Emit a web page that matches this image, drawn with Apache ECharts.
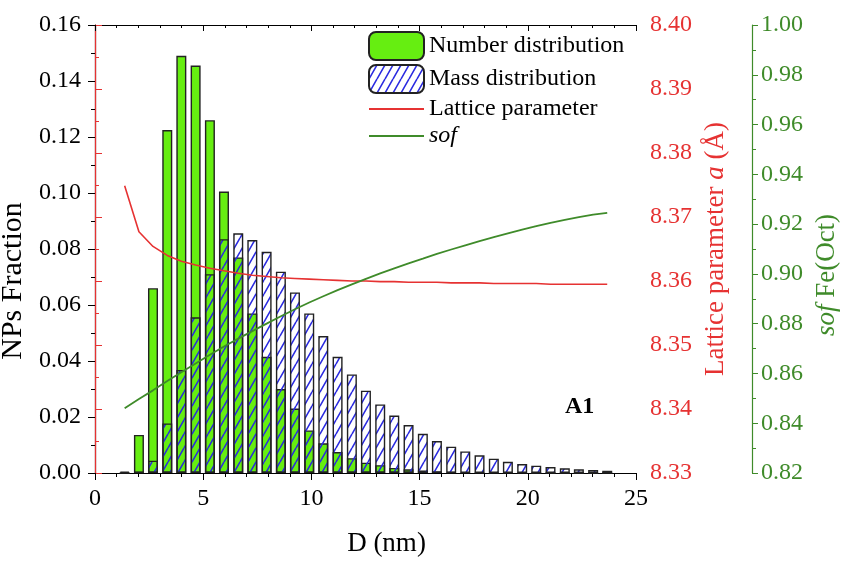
<!DOCTYPE html>
<html><head><meta charset="utf-8">
<script src="https://cdn.jsdelivr.net/npm/echarts@6/dist/echarts.min.js"></script>
<style>html,body{margin:0;padding:0;background:#fff}#c{width:842px;height:562px}</style>
</head><body><div id="c"></div>
<script>
// Bin centres D (nm)
const diameters = [1.37, 2.03, 2.68, 3.34, 3.99, 4.65, 5.31, 5.96, 6.62, 7.27,
  7.93, 8.59, 9.24, 9.90, 10.55, 11.21, 11.87, 12.52, 13.18, 13.83,
  14.49, 15.15, 15.80, 16.46, 17.11, 17.77, 18.43, 19.08, 19.74, 20.39,
  21.05, 21.71, 22.36, 23.02, 23.67];
// NPs fraction – number distribution
const numberDist = [0.0005, 0.0136, 0.0660, 0.1225, 0.1490, 0.1455, 0.1260, 0.1005, 0.0770, 0.0570,
  0.0415, 0.0300, 0.0230, 0.0152, 0.0106, 0.0075, 0.0053, 0.0037, 0.0028, 0.0018,
  0.0013, 0.0009, 0.0006, 0.0004, 0.0003, 0.0002, 0.0001, 0.0001, 0.0001, 0,
  0, 0, 0, 0, 0];
// NPs fraction – mass distribution
const massDist = [0, 0.0004, 0.0044, 0.0177, 0.0368, 0.0556, 0.0710, 0.0835, 0.0856, 0.0832,
  0.0790, 0.0719, 0.0645, 0.0570, 0.0489, 0.0415, 0.0352, 0.0294, 0.0245, 0.0205,
  0.0171, 0.0140, 0.0114, 0.0094, 0.0077, 0.0063, 0.0051, 0.0040, 0.0032, 0.0026,
  0.0021, 0.0017, 0.0013, 0.0011, 0.0008];
// Lattice parameter a (Å)
const latticeParam = [8.3749, 8.3677, 8.3654, 8.3640, 8.3631, 8.3625, 8.3620, 8.3616, 8.3612, 8.3609,
  8.3607, 8.3605, 8.3604, 8.3603, 8.3602, 8.3601, 8.3600, 8.3600, 8.3599, 8.3599,
  8.3598, 8.3598, 8.3598, 8.3597, 8.3597, 8.3597, 8.3596, 8.3596, 8.3596, 8.3596,
  8.3595, 8.3595, 8.3595, 8.3595, 8.3595];
// sof Fe(Oct)
const sofFeOct = [0.8460, 0.8497, 0.8532, 0.8570, 0.8605, 0.8640, 0.8675, 0.8708, 0.8740, 0.8770,
  0.8800, 0.8830, 0.8858, 0.8885, 0.8910, 0.8935, 0.8958, 0.8980, 0.9002, 0.9022,
  0.9042, 0.9061, 0.9080, 0.9098, 0.9115, 0.9132, 0.9148, 0.9163, 0.9178, 0.9192,
  0.9205, 0.9217, 0.9228, 0.9238, 0.9245];
const seriesNames = ['Number distribution', 'Mass distribution', 'Lattice parameter', 'sof'];

const serif = 'Liberation Serif';
const RED = '#e63232', GRN = '#3f8b2a', LIME = '#66ee11', BLK = '#000';

// hatch tile
const hatch = document.createElement('canvas');
hatch.width = 8; hatch.height = 14;
(function(){
  const c = hatch.getContext('2d');
  c.strokeStyle = '#2a2ae0'; c.lineWidth = 1.6;
  c.beginPath();
  for (const dx of [-8, 0, 8]) { c.moveTo(dx, 14); c.lineTo(dx + 8, 0); }
  c.stroke();
})();

const chart = echarts.init(document.getElementById('c'), null, {renderer: 'canvas'});
const pair = arr => diameters.map((d, i) => [d, arr[i]]);
const flatIcon = 'path://M0,0H55V2H0Z';

chart.setOption({
  animation: false,
  textStyle: {fontFamily: serif},
  grid: {left: 95, right: 206, top: 25, bottom: 89, outerBoundsMode: 'none'},
  legend: {
    orient: 'vertical', left: 363, top: 26, itemWidth: 55, itemHeight: 28, itemGap: 3,
    data: [
      {name: seriesNames[0]},
      {name: seriesNames[1]},
      {name: seriesNames[2], icon: flatIcon},
      {name: seriesNames[3], icon: flatIcon}
    ],
    formatter: n => n === 'sof' ? '{i|sof}' : n,
    textStyle: {fontSize: 24, color: BLK, fontFamily: serif,
      rich: {i: {fontStyle: 'italic', fontSize: 24, color: BLK, fontFamily: serif}}}
  },
  xAxis: [{
    type: 'value', min: 0, max: 25, interval: 5, position: 'bottom',
    name: 'D (nm)', nameLocation: 'middle', nameGap: 57,
    nameTextStyle: {fontSize: 27, color: BLK, fontFamily: serif, padding: [0, 0, 0, 42]},
    axisLine: {show: true, lineStyle: {color: BLK, width: 1.2}},
    axisTick: {length: 7, lineStyle: {color: BLK}},
    minorTick: {show: true, splitNumber: 5, length: 4, lineStyle: {color: BLK}},
    splitLine: {show: false},
    axisLabel: {fontSize: 24, color: BLK, margin: 14, fontFamily: serif}
  }, {
    type: 'value', min: 0, max: 25, interval: 5, position: 'top',
    axisLine: {show: true, lineStyle: {color: BLK, width: 1.2}},
    axisTick: {inside: true, length: 6, lineStyle: {color: BLK}},
    minorTick: {show: true, splitNumber: 5, length: 3, lineStyle: {color: BLK}},
    splitLine: {show: false}, axisLabel: {show: false}
  }],
  yAxis: [{
    type: 'value', min: 0, max: 0.16, interval: 0.02, position: 'left',
    name: 'NPs Fraction', nameLocation: 'middle', nameGap: 53,
    nameTextStyle: {fontSize: 30, color: BLK, fontFamily: serif, padding: [0, 64, 0, 0]},
    axisLine: {show: true, lineStyle: {color: BLK, width: 1.2}},
    axisTick: {length: 7, lineStyle: {color: BLK}},
    minorTick: {show: true, splitNumber: 2, length: 4, lineStyle: {color: BLK}},
    splitLine: {show: false},
    axisLabel: {fontSize: 24, color: BLK, margin: 14, fontFamily: serif, formatter: v => v.toFixed(2)}
  }, {
    type: 'value', min: 8.33, max: 8.40, interval: 0.01, position: 'right',
    name: '{n|Lattice parameter }{i|a}{n| (Å)}', nameLocation: 'middle', nameGap: 64,
    nameTextStyle: {fontSize: 27, color: RED, fontFamily: serif,
      rich: {n: {fontSize: 27, color: RED, fontFamily: serif}, i: {fontSize: 27, color: RED, fontFamily: serif, fontStyle: 'italic'}}},
    axisLine: {show: true, lineStyle: {color: RED, width: 1.2}},
    axisTick: {length: 7, lineStyle: {color: RED}},
    minorTick: {show: true, splitNumber: 2, length: 4, lineStyle: {color: RED}},
    splitLine: {show: false},
    axisLabel: {fontSize: 24, color: RED, margin: 14, fontFamily: serif, formatter: v => v.toFixed(2)}
  }, {
    type: 'value', min: 0.82, max: 1.00, interval: 0.02, position: 'right', offset: 116,
    name: '{i|sof}{n| Fe(Oct)}', nameLocation: 'middle', nameGap: 60,
    nameTextStyle: {fontSize: 27, color: GRN, fontFamily: serif, padding: [0, 52, 0, 0],
      rich: {n: {fontSize: 27, color: GRN, fontFamily: serif}, i: {fontSize: 27, color: GRN, fontFamily: serif, fontStyle: 'italic'}}},
    axisLine: {show: true, lineStyle: {color: GRN, width: 1.2}},
    axisTick: {length: 6, lineStyle: {color: GRN}},
    minorTick: {show: true, splitNumber: 2, length: 4, lineStyle: {color: GRN}},
    splitLine: {show: false},
    axisLabel: {fontSize: 24, color: GRN, margin: 9, fontFamily: serif, formatter: v => v.toFixed(2)}
  }],
  graphic: [{
    type: 'text', left: 565, top: 395, z: 10,
    style: {text: 'A1', font: 'bold 24px "Liberation Serif"', fill: BLK}
  }],
  series: [{
    name: seriesNames[0], type: 'bar', xAxisIndex: 0, yAxisIndex: 0,
    data: pair(numberDist), barWidth: 10, barGap: '-100%',
    itemStyle: {color: LIME, borderColor: '#222', borderWidth: 1.4}
  }, {
    name: seriesNames[1], type: 'bar', xAxisIndex: 0, yAxisIndex: 0,
    data: pair(massDist), barWidth: 10, barGap: '-100%',
    itemStyle: {color: {image: hatch, repeat: 'repeat'}, borderColor: '#222', borderWidth: 1.4}
  }, {
    name: seriesNames[2], type: 'line', xAxisIndex: 0, yAxisIndex: 1,
    data: pair(latticeParam), symbol: 'none', showSymbol: false, z: 5,
    lineStyle: {color: RED, width: 1.6}, itemStyle: {color: RED}
  }, {
    name: seriesNames[3], type: 'line', xAxisIndex: 0, yAxisIndex: 2,
    data: pair(sofFeOct), symbol: 'none', showSymbol: false, z: 5,
    lineStyle: {color: GRN, width: 1.8}, itemStyle: {color: GRN}
  }]
});
</script></body></html>
